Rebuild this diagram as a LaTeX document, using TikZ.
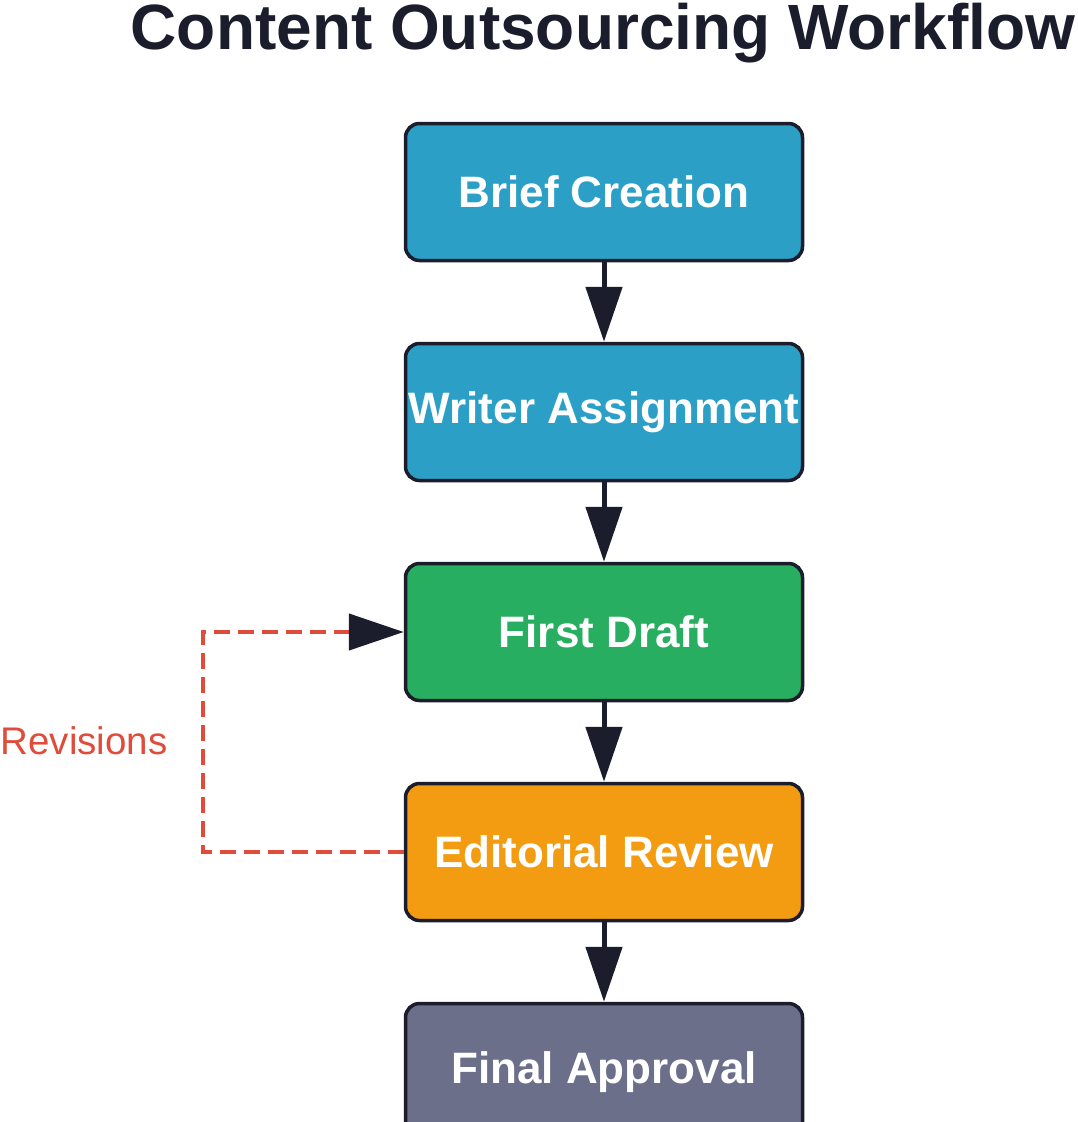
\documentclass[tikz,border=0pt]{standalone}
\usepackage{fontspec}
\setmainfont{Liberation Sans}
\usetikzlibrary{arrows.meta}
\definecolor{ink}{HTML}{1B1D2C}
\definecolor{cblue}{HTML}{2B9FC5}
\definecolor{cgreen}{HTML}{27AE60}
\definecolor{corange}{HTML}{F39C12}
\definecolor{cgray}{HTML}{6B6F8A}
\definecolor{cred}{HTML}{DF4C3B}
\begin{document}
\begin{tikzpicture}[x=1pt,y=-1pt,
  stepbox/.style={draw=ink, line width=3.5pt, rounded corners=14pt,
    minimum width=397pt, minimum height=137pt, inner sep=0pt,
    text=white, font=\fontsize{44}{50}\selectfont\bfseries},
  flow/.style={draw=ink, line width=5pt, -{Triangle[length=55pt,width=36pt]}},
  revise/.style={draw=cred, line width=4.5pt, dash pattern=on 16pt off 8pt,
    -{Triangle[length=55pt,width=36pt,color=ink]}}]
\useasboundingbox (0,0) rectangle (1077,1122);
\clip (0,0) rectangle (1077,1122);
\node[anchor=base, text=ink, font=\fontsize{64}{70}\selectfont\bfseries] (title) at (603,49) {Content Outsourcing Workflow};
\node[stepbox, fill=cblue] (brief) at (604,192) {Brief Creation};
\node[stepbox, fill=cblue] (writer) at (604,412) {Writer Assignment};
\node[stepbox, fill=cgreen] (draft) at (604,632) {First Draft};
\node[stepbox, fill=corange] (review) at (604,852) {Editorial Review};
\node[stepbox, fill=cgray] (final) at (604,1072) {Final Approval};
\draw[flow] (brief.south) -- (writer.north);
\draw[flow] (writer.south) -- (draft.north);
\draw[flow] (draft.south) -- (review.north);
\draw[flow] (review.south) -- (final.north);
\draw[revise] (review.west) -- ++(-201,0) |- (draft.west)
  node[pos=0.25, anchor=east, xshift=-33pt, yshift=1pt, text=cred, inner sep=0pt,
       font=\fontsize{38.5}{44}\selectfont] (revlabel) {Revisions};
\end{tikzpicture}
\end{document}
